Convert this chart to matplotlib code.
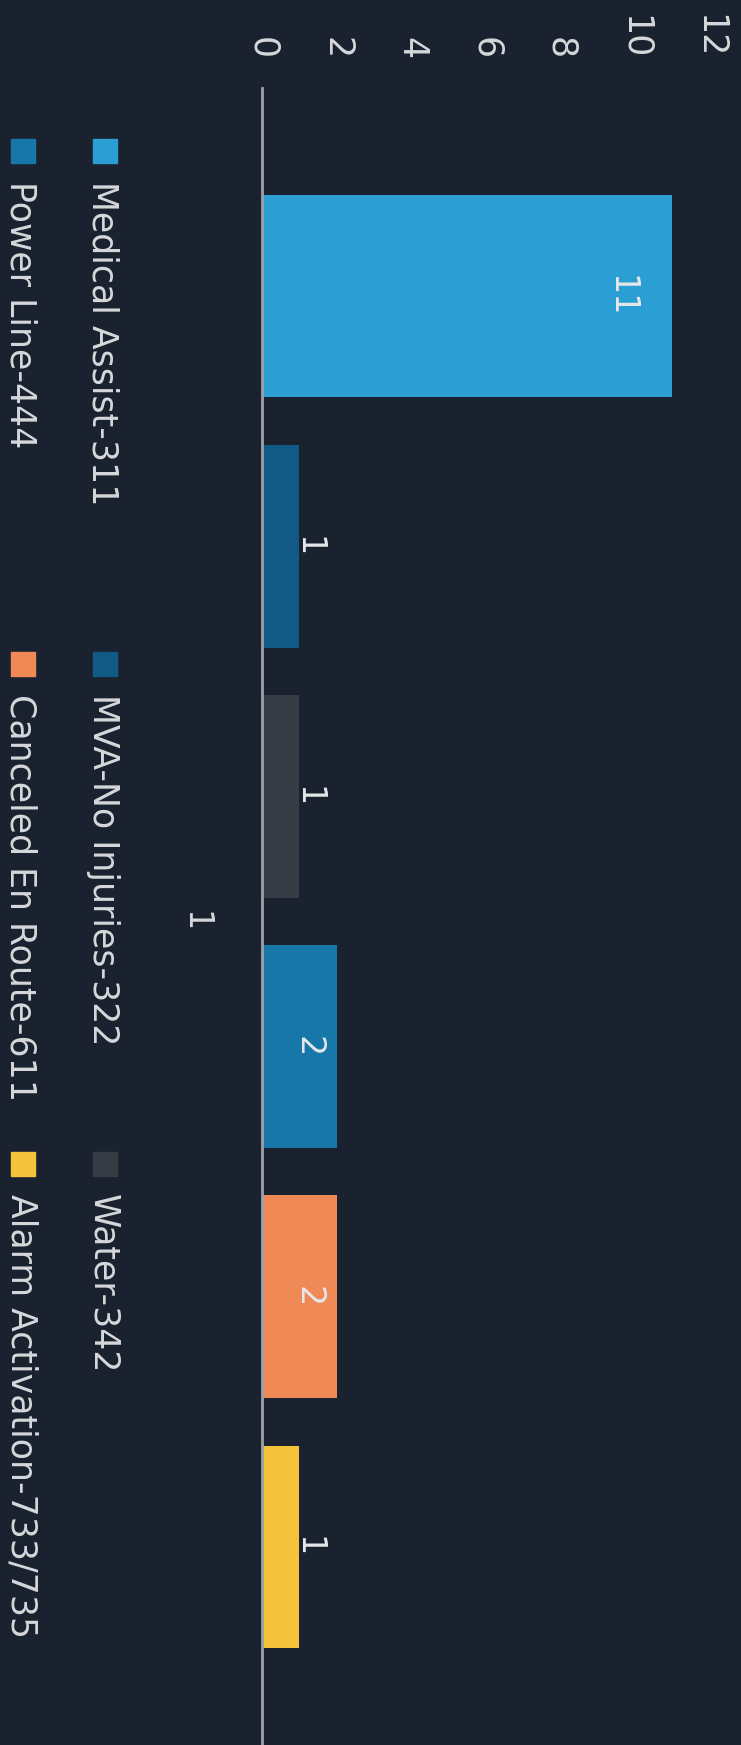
import matplotlib
matplotlib.use("Agg")
import matplotlib.pyplot as plt
from matplotlib.patches import Rectangle

plt.rcParams["font.family"] = ["DejaVu Sans"]

# chart data (column chart, shown rotated 90 degrees clockwise)
categories = ["Medical Assist-311", "MVA-No Injuries-322", "Water-342",
              "Power Line-444", "Canceled En Route-611", "Alarm Activation-733/735"]
counts = [11, 1, 1, 2, 2, 1]
bar_colors = ["#2b9ed4", "#115a86", "#363b44", "#1677a8", "#ef8a57", "#f5c33b"]
value_ticks = [0, 2, 4, 6, 8, 10, 12]

bg = "#1a2230"
text_col = "#d6d8da"
W, H = 741, 1745

fig = plt.figure(figsize=(W / 100, H / 100), dpi=100, facecolor=bg)
ax = fig.add_axes([262 / W, 0, (W - 262) / W, (H - 88) / H])
ax.set_facecolor(bg)

ypos = list(range(len(categories)))
ax.barh(ypos, counts, height=0.81, color=bar_colors, zorder=2)

ax.set_xlim(0, (W - 262) / 37.3)
ax.set_ylim((H - 296) / 250.2, (88 - 296) / 250.2)

for s in ["top", "right", "bottom"]:
    ax.spines[s].set_visible(False)
ax.spines["left"].set_color("#9ea2a7")
ax.spines["left"].set_linewidth(2)
ax.spines["left"].set_zorder(3)

ax.xaxis.tick_top()
ax.set_xticks(value_ticks)
ax.set_xticklabels([str(t) for t in value_ticks], rotation=-90, fontsize=25,
                   color=text_col)
ax.tick_params(axis="x", length=0, pad=21)
ax.set_yticks([])

# value labels
for i, v in enumerate(counts):
    if v >= 10:
        off = -51
    elif v >= 2:
        off = -29
    else:
        off = 9
    ax.annotate(str(v), xy=(v, i), xytext=(off * 0.72, 0), textcoords="offset points",
                rotation=-90, ha="center", va="center", fontsize=24,
                color="#e6e8ea", zorder=4)

# stray label left of the axis
ax.text(-1.8, 2.5, "1", rotation=-90, ha="center", va="center", fontsize=24,
        color=text_col, clip_on=False)

# legend, two rows of three (rotated)
row_x = [93, 11]
col_y = [139, 652, 1152]
for k, (name, c) in enumerate(zip(categories, bar_colors)):
    r, cidx = divmod(k, 3)
    x0, y0 = row_x[r], col_y[cidx]
    fig.add_artist(Rectangle((x0 / W, 1 - (y0 + 24) / H), 24 / W, 24 / H,
                             transform=fig.transFigure, color=c))
    fig.text(x0 / W, 1 - (y0 + 42) / H, name, rotation=-90, rotation_mode="anchor",
             ha="left", va="baseline", fontsize=25, color=text_col)

fig.savefig("out.png", dpi=100, facecolor=bg)
